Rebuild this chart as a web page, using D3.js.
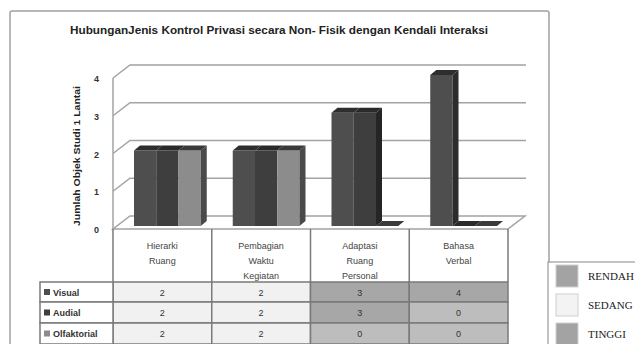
<!DOCTYPE html>
<html>
<head>
<meta charset="utf-8">
<script src="https://cdn.jsdelivr.net/npm/d3@7"></script>
<style>
  body { margin: 0; background: #fff; }
  svg { display: block; }
</style>
</head>
<body>
<svg width="635" height="344"></svg>
<script>
// données
const categories = [
    ['Hierarki', 'Ruang'],
    ['Pembagian', 'Waktu', 'Kegiatan'],
    ['Adaptasi', 'Ruang', 'Personal'],
    ['Bahasa', 'Verbal']
];
const series = ['Visual', 'Audial', 'Olfaktorial'];
const visual = [2, 2, 3, 4];
const audial = [2, 2, 3, 0];
const olfaktorial = [2, 2, 0, 0];
const valeurs = [visual, audial, olfaktorial];

// niveau de chaque case du tableau (R = rendah, S = sedang, T = tinggi)
const niveauVisual = ['S', 'S', 'T', 'T'];
const niveauAudial = ['S', 'S', 'T', 'R'];
const niveauOlfaktorial = ['S', 'S', 'R', 'R'];
const niveaux = [niveauVisual, niveauAudial, niveauOlfaktorial];

const legendeNiveaux = ['RENDAH', 'SEDANG', 'TINGGI'];
const yTicks = [0, 1, 2, 3, 4];
const titre = 'HubunganJenis Kontrol Privasi  secara Non- Fisik dengan Kendali Interaksi';
const titreAxe = 'Jumlah Objek Studi 1 Lantai';

// couleurs
const couleursSerie = ['#4e4e4e', '#3e3e3e', '#8c8c8c'];
const couleursCote = ['#2c2c2c', '#252525', '#4a4a4a'];
const couleursDessus = ['#2e2e2e', '#2a2a2a', '#3a3a3a'];
const couleursCase = { R: '#bdbdbd', S: '#f1f1f1', T: '#a7a7a7' };
const couleursLegende = ['#a3a3a3', '#f3f3f3', '#a3a3a3'];

const svg = d3.select('svg');

// cadre du graphique
svg.append('rect')
    .attr('x', 10).attr('y', 11)
    .attr('width', 539).attr('height', 345)
    .attr('rx', 2)
    .attr('fill', '#fff')
    .attr('stroke', '#a0a0a0')
    .attr('stroke-width', 1.5);

// titre
svg.append('text')
    .attr('x', 279).attr('y', 34)
    .attr('text-anchor', 'middle')
    .attr('font-family', 'Liberation Sans, Arial, sans-serif')
    .attr('font-weight', 'bold')
    .attr('font-size', 10.5)
    .attr('fill', '#222')
    .attr('textLength', 418)
    .attr('lengthAdjust', 'spacingAndGlyphs')
    .text(titre);

// échelles (plan avant)
const x0 = 113, x1 = 508;
const profX = 17, profY = -13;

const x = d3.scaleBand()
    .domain(d3.range(categories.length))
    .range([x0, x1]);

const xBarres = d3.scaleBand()
    .domain(d3.range(series.length))
    .range([17, x.bandwidth() - 15]);

const y = d3.scaleLinear()
    .domain([0, 4])
    .range([229, 78]);

// sol
svg.append('path')
    .attr('d', `M${x0},${y(0)} L${x1},${y(0)} L${x1 + profX},${y(0) + profY} L${x0 + profX},${y(0) + profY} Z`)
    .attr('fill', '#fff')
    .attr('stroke', '#a3a3a3')
    .attr('stroke-width', 1.5);

// lignes de grille
svg.append('g')
    .selectAll('path')
    .data(yTicks.filter(d => d > 0))
    .join('path')
    .attr('d', d => `M${x0},${y(d)} L${x0 + profX},${y(d) + profY} L${x1 + profX + 1},${y(d) + profY}`)
    .attr('fill', 'none')
    .attr('stroke', '#a3a3a3')
    .attr('stroke-width', 1.5);

// axe vertical avant
svg.append('line')
    .attr('x1', x0).attr('x2', x0)
    .attr('y1', y(4)).attr('y2', y(0))
    .attr('stroke', '#a3a3a3')
    .attr('stroke-width', 1.5);

// étiquettes de l'axe
svg.append('g')
    .selectAll('text')
    .data(yTicks)
    .join('text')
    .attr('x', 99)
    .attr('y', d => y(d) + 4)
    .attr('text-anchor', 'end')
    .attr('font-family', 'Liberation Sans, Arial, sans-serif')
    .attr('font-weight', 'bold')
    .attr('font-size', 9)
    .attr('fill', '#333')
    .text(d => d);

svg.append('text')
    .attr('transform', 'translate(80,156) rotate(-90)')
    .attr('text-anchor', 'middle')
    .attr('font-family', 'Liberation Sans, Arial, sans-serif')
    .attr('font-weight', 'bold')
    .attr('font-size', 9.5)
    .attr('fill', '#222')
    .attr('textLength', 140)
    .attr('lengthAdjust', 'spacingAndGlyphs')
    .text(titreAxe);

// barres 3D
const bx = 4, by = -3;      // décalage de la face avant
const dx = 6, dy = -5;      // profondeur de la barre
const barres = [];
valeurs.forEach((serie, s) => {
    serie.forEach((v, c) => barres.push({ s, c, v }));
});

const gBarres = svg.append('g');
categories.forEach((cat, c) => {
    series.forEach((nom, s) => {
        const b = barres.find(d => d.c === c && d.s === s);
        const xa = x(c) + xBarres(s) + bx;
        const xb = xa + xBarres.bandwidth();
        const yb = y(0) + by;
        const yt = y(b.v) + by;
        const g = gBarres.append('g');
        if (b.v > 0) {
            g.append('rect')
                .attr('x', xa).attr('y', yt)
                .attr('width', xBarres.bandwidth()).attr('height', yb - yt)
                .attr('fill', couleursSerie[s]);
            if (s === series.length - 1 || valeurs[s + 1][c] < b.v) {
                g.append('path')
                    .attr('d', `M${xb},${yb} L${xb + dx},${yb + dy} L${xb + dx},${yt + dy} L${xb},${yt} Z`)
                    .attr('fill', couleursCote[s]);
            }
        }
        g.append('path')
            .attr('d', `M${xa},${yt} L${xa + dx},${yt + dy} L${xb + dx},${yt + dy} L${xb},${yt} Z`)
            .attr('fill', couleursDessus[s]);
    });
});

// tableau de données
const rangees = [282, 302, 323, 344];
const hauteurRangee = i => rangees[i + 1] - rangees[i];

// en-têtes des catégories
const gTab = svg.append('g')
    .attr('font-family', 'Liberation Sans Narrow, Liberation Sans, Arial, sans-serif')
    .attr('fill', '#444');

categories.forEach((cat, c) => {
    cat.forEach((ligne, i) => {
        gTab.append('text')
            .attr('x', x(c) + x.bandwidth() / 2)
            .attr('y', 249 + i * 15)
            .attr('text-anchor', 'middle')
            .attr('font-size', 9)
            .attr('fill', '#444')
            .text(ligne);
    });
});

// cases
series.forEach((nom, s) => {
    categories.forEach((cat, c) => {
        gTab.append('rect')
            .attr('x', x(c)).attr('y', rangees[s])
            .attr('width', x.bandwidth()).attr('height', hauteurRangee(s))
            .attr('fill', couleursCase[niveaux[s][c]])
            .attr('stroke', '#7a7a7a')
            .attr('stroke-width', 1.5);
        gTab.append('text')
            .attr('x', x(c) + x.bandwidth() / 2)
            .attr('y', rangees[s] + hauteurRangee(s) / 2 + 3.5)
            .attr('text-anchor', 'middle')
            .attr('font-size', 9)
            .attr('fill', '#333')
            .text(valeurs[s][c]);
    });
    // étiquette de la série
    gTab.append('rect')
        .attr('x', 40).attr('y', rangees[s])
        .attr('width', x0 - 40).attr('height', hauteurRangee(s))
        .attr('fill', '#fff')
        .attr('stroke', '#7a7a7a')
        .attr('stroke-width', 1.5);
    gTab.append('rect')
        .attr('x', 44).attr('y', rangees[s] + hauteurRangee(s) / 2 - 3)
        .attr('width', 6).attr('height', 6)
        .attr('fill', couleursSerie[s]);
    gTab.append('text')
        .attr('x', 53)
        .attr('y', rangees[s] + hauteurRangee(s) / 2 + 3.5)
        .attr('font-size', 9)
        .attr('font-weight', 'bold')
        .attr('fill', '#333')
        .text(nom);
});

// lignes verticales de l'en-tête
gTab.selectAll('line')
    .data(d3.range(categories.length + 1))
    .join('line')
    .attr('x1', d => x0 + d * x.bandwidth())
    .attr('x2', d => x0 + d * x.bandwidth())
    .attr('y1', y(0))
    .attr('y2', rangees[0])
    .attr('stroke', '#7a7a7a')
    .attr('stroke-width', 1.5);

// légende des niveaux (à droite)
const gLeg = svg.append('g');
gLeg.append('rect')
    .attr('x', 548).attr('y', 262)
    .attr('width', 100).attr('height', 100)
    .attr('fill', '#fff')
    .attr('stroke', '#9a9a9a')
    .attr('stroke-width', 1.2);

const yLeg = d3.scalePoint()
    .domain(legendeNiveaux)
    .range([276, 334]);

gLeg.selectAll('rect.swatch')
    .data(legendeNiveaux)
    .join('rect')
    .attr('class', 'swatch')
    .attr('x', 556)
    .attr('y', d => yLeg(d) - 11)
    .attr('width', 22).attr('height', 22)
    .attr('fill', (d, i) => couleursLegende[i])
    .attr('stroke', '#d0d0d0');

gLeg.selectAll('text')
    .data(legendeNiveaux)
    .join('text')
    .attr('x', 588)
    .attr('y', d => yLeg(d) + 4)
    .attr('font-family', 'Liberation Serif, Times New Roman, serif')
    .attr('font-size', 11)
    .attr('fill', '#222')
    .text(d => d);
</script>
</body>
</html>
